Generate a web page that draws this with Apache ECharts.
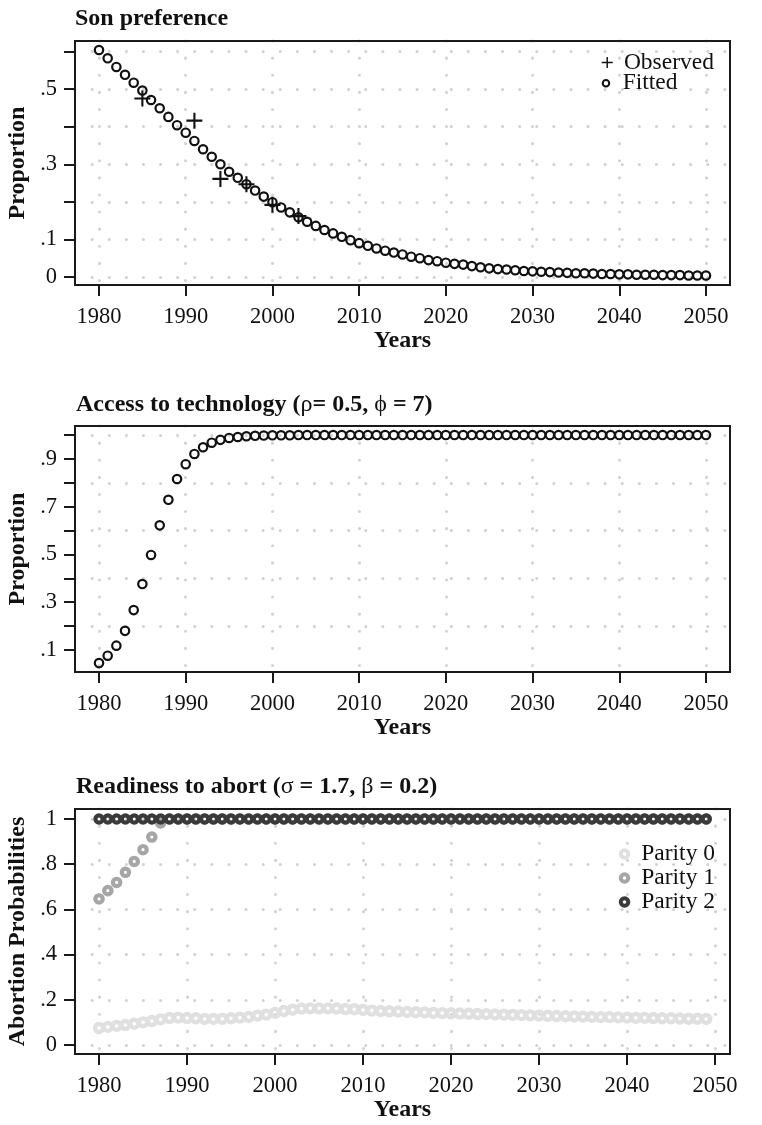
<!DOCTYPE html>
<html>
<head>
<meta charset="utf-8">
<script src="https://cdn.jsdelivr.net/npm/echarts@6/dist/echarts.min.js"></script>
<style>
html,body{margin:0;padding:0;background:#fff;}
#chart{width:762px;height:1125px;}
</style>
</head>
<body>
<div id="chart"></div>
<script>
// ---------------- DATA ----------------
const startYear = 1980;
// Panel 1: Son preference
const observedYears  = [1985, 1991, 1994, 1997, 2000, 2003];
const observedValues = [0.475, 0.416, 0.261, 0.247, 0.192, 0.162];
const fittedValues = [
  0.604, 0.582, 0.559, 0.538, 0.517, 0.496, 0.471, 0.449, 0.426, 0.404,
  0.384, 0.362, 0.340, 0.320, 0.300, 0.280, 0.264, 0.247, 0.230, 0.214,
  0.199, 0.185, 0.172, 0.159, 0.147, 0.136, 0.125, 0.116, 0.107, 0.098,
  0.090, 0.083, 0.076, 0.070, 0.065, 0.060, 0.054, 0.050, 0.045, 0.042,
  0.038, 0.035, 0.033, 0.029, 0.026, 0.023, 0.021, 0.020, 0.018, 0.016,
  0.015, 0.014, 0.013, 0.012, 0.011, 0.010, 0.010, 0.009, 0.008, 0.008,
  0.007, 0.007, 0.006, 0.006, 0.006, 0.005, 0.005, 0.005, 0.004, 0.004,
  0.004
];
// Panel 2: Access to technology
const accessValues = [
  0.045, 0.076, 0.118, 0.180, 0.267, 0.376, 0.498, 0.622, 0.729, 0.816,
  0.878, 0.921, 0.949, 0.968, 0.980, 0.988, 0.992, 0.995, 0.997, 0.998,
  0.999, 0.999, 0.999, 1, 1, 1, 1, 1, 1, 1,
  1, 1, 1, 1, 1, 1, 1, 1, 1, 1,
  1, 1, 1, 1, 1, 1, 1, 1, 1, 1,
  1, 1, 1, 1, 1, 1, 1, 1, 1, 1,
  1, 1, 1, 1, 1, 1, 1, 1, 1, 1,
  1
];
// Panel 3: Readiness to abort (1980-2049)
const parity0 = [
  0.075, 0.080, 0.084, 0.088, 0.094, 0.100, 0.106, 0.113, 0.119, 0.121,
  0.119, 0.118, 0.115, 0.115, 0.116, 0.118, 0.121, 0.124, 0.130, 0.134,
  0.142, 0.150, 0.156, 0.161, 0.162, 0.162, 0.162, 0.161, 0.159, 0.158,
  0.155, 0.152, 0.150, 0.149, 0.148, 0.146, 0.145, 0.144, 0.142, 0.141,
  0.140, 0.139, 0.138, 0.137, 0.136, 0.135, 0.134, 0.133, 0.132, 0.131,
  0.130, 0.129, 0.128, 0.127, 0.126, 0.125, 0.124, 0.123, 0.123, 0.122,
  0.121, 0.120, 0.120, 0.119, 0.118, 0.118, 0.117, 0.116, 0.116, 0.115
];
const parity1 = [
  0.646, 0.683, 0.719, 0.764, 0.812, 0.864, 0.920, 0.982, 1, 1,
  1, 1, 1, 1, 1, 1, 1, 1, 1, 1,
  1, 1, 1, 1, 1, 1, 1, 1, 1, 1,
  1, 1, 1, 1, 1, 1, 1, 1, 1, 1,
  1, 1, 1, 1, 1, 1, 1, 1, 1, 1,
  1, 1, 1, 1, 1, 1, 1, 1, 1, 1,
  1, 1, 1, 1, 1, 1, 1, 1, 1, 1
];
const parity2 = [
  1, 1, 1, 1, 1, 1, 1, 1, 1, 1,
  1, 1, 1, 1, 1, 1, 1, 1, 1, 1,
  1, 1, 1, 1, 1, 1, 1, 1, 1, 1,
  1, 1, 1, 1, 1, 1, 1, 1, 1, 1,
  1, 1, 1, 1, 1, 1, 1, 1, 1, 1,
  1, 1, 1, 1, 1, 1, 1, 1, 1, 1,
  1, 1, 1, 1, 1, 1, 1, 1, 1, 1
];
// Ticks / labels
const xTicks = [1980, 1990, 2000, 2010, 2020, 2030, 2040, 2050];
const yTicks1 = [0, 0.1, 0.2, 0.3, 0.4, 0.5, 0.6];
const yLabels1 = [0, 0.1, 0.3, 0.5];
const yGrid1 = [0, 0.1, 0.2, 0.3, 0.4, 0.5, 0.6];
const yTicks2 = [0.1, 0.2, 0.3, 0.4, 0.5, 0.6, 0.7, 0.8, 0.9, 1.0];
const yLabels2 = [0.1, 0.3, 0.5, 0.7, 0.9];
const yGrid2 = [0.2, 0.4, 0.6, 0.8, 1.0];
const yTicks3 = [0, 0.2, 0.4, 0.6, 0.8, 1];
const yLabels3 = [0, 0.2, 0.4, 0.6, 0.8, 1];
const yGrid3 = [0, 0.2, 0.4, 0.6, 0.8, 1];

// ---------------- STYLE ----------------
const FONT = '"Liberation Serif", "Times New Roman", Times, serif';
const INK = '#111';
const FRAME = '#1a1a1a';
const dotLine = { color: '#d2d2d2', width: 3, type: [0.1, 17], cap: 'round' };
const plusPath = 'path://M6.95,0H9.05V6.95H16V9.05H9.05V16H6.95V9.05H0V6.95H6.95Z';

function fmt(v) {
  if (v === 0) return '0';
  if (v === 1) return '1';
  return String(v).replace(/^0/, '');
}
function pairs(vals) { return vals.map((v, i) => [startYear + i, v]); }

const panels = [
  { top: 41, height: 244, xmin: 1977.23, xmax: 2052.77, ymin: -0.0213, ymax: 0.628,
    yTicks: yTicks1, yLabels: yLabels1, yGrid: yGrid1, yName: 'Proportion' },
  { top: 426, height: 246, xmin: 1977.23, xmax: 2052.77, ymin: 0.0077, ymax: 1.038,
    yTicks: yTicks2, yLabels: yLabels2, yGrid: yGrid2, yName: 'Proportion' },
  { top: 809, height: 245, xmin: 1977.27, xmax: 2051.7, ymin: -0.040, ymax: 1.044,
    yTicks: yTicks3, yLabels: yLabels3, yGrid: yGrid3, yName: 'Abortion Probabilities' }
];

const grid = [], xAxis = [], yAxis = [];
panels.forEach((p, i) => {
  grid.push({ left: 75, right: 32, top: p.top, height: p.height, show: true, z: 10,
    borderColor: FRAME, borderWidth: 2, backgroundColor: 'rgba(0,0,0,0)', containLabel: false, outerBoundsMode: 'none' });
  xAxis.push({
    gridIndex: i, type: 'value', min: p.xmin, max: p.xmax,
    axisLine: { show: true, onZero: false, lineStyle: { color: FRAME, width: 2 } },
    axisTick: { show: true, length: 11, customValues: xTicks, lineStyle: { color: FRAME, width: 2 } },
    axisLabel: { customValues: xTicks, margin: 21, fontSize: 22.5, fontFamily: FONT, color: INK,
      formatter: v => String(v) },
    splitLine: { show: true, lineStyle: dotLine },
    name: 'Years', nameLocation: 'middle', nameGap: 44, nameMoveOverlap: false,
    nameTextStyle: { fontSize: 24, fontWeight: 'bold', fontFamily: FONT, color: INK }
  });
  yAxis.push({
    gridIndex: i, type: 'value', min: p.ymin, max: p.ymax,
    axisLine: { show: true, onZero: false, lineStyle: { color: FRAME, width: 2 } },
    axisTick: { show: true, length: 11, customValues: p.yTicks, lineStyle: { color: FRAME, width: 2 } },
    axisLabel: { customValues: p.yLabels, margin: 18, fontSize: 22.5, fontFamily: FONT, color: INK, formatter: fmt },
    splitLine: { show: false },
    name: p.yName, nameLocation: 'middle', nameGap: 45, nameRotate: 90, nameMoveOverlap: false,
    nameTextStyle: { fontSize: 24, fontWeight: 'bold', fontFamily: FONT, color: INK }
  });
  yAxis.push({
    gridIndex: i, type: 'value', min: p.ymin, max: p.ymax, position: 'left',
    axisLine: { show: false }, axisTick: { show: false, customValues: p.yGrid },
    axisLabel: { show: false }, splitLine: { show: true, lineStyle: dotLine }
  });
});

const hollow = (color, bw) => ({ color: 'rgba(255,255,255,0)', borderColor: color, borderWidth: bw, opacity: 1 });

const series = [
  { type: 'scatter', name: 'Fitted', xAxisIndex: 0, yAxisIndex: 0, data: pairs(fittedValues),
    symbol: 'circle', symbolSize: 8.4, itemStyle: hollow(INK, 2.2), emphasis: { disabled: true }, z: 3 },
  { type: 'scatter', name: 'Observed', xAxisIndex: 0, yAxisIndex: 0,
    data: observedYears.map((y, i) => [y, observedValues[i]]),
    symbol: plusPath, symbolSize: 16, itemStyle: { color: INK, borderWidth: 0, opacity: 1 }, emphasis: { disabled: true }, z: 4 },
  { type: 'scatter', name: 'Access', xAxisIndex: 1, yAxisIndex: 2, data: pairs(accessValues),
    symbol: 'circle', symbolSize: 8.4, itemStyle: hollow(INK, 2.2), emphasis: { disabled: true }, z: 3 },
  { type: 'scatter', name: 'Parity 0', xAxisIndex: 2, yAxisIndex: 4, data: pairs(parity0),
    symbol: 'circle', symbolSize: 8, itemStyle: hollow('#e0e0e0', 4.4), emphasis: { disabled: true }, z: 3 },
  { type: 'scatter', name: 'Parity 1', xAxisIndex: 2, yAxisIndex: 4, data: pairs(parity1),
    symbol: 'circle', symbolSize: 7.4, itemStyle: hollow('#a6a6a6', 4.2), emphasis: { disabled: true }, z: 4 },
  { type: 'scatter', name: 'Parity 2', xAxisIndex: 2, yAxisIndex: 4, data: pairs(parity2),
    symbol: 'circle', symbolSize: 7.2, itemStyle: hollow('#3a3a3a', 4.2), emphasis: { disabled: true }, z: 5 }
];

const legText = { fontSize: 23.5, fontFamily: FONT, color: INK, lineHeight: 21 };
const legend = [
  { orient: 'vertical', left: 601.7, top: 50.5, padding: 0, itemGap: 0, itemWidth: 23.4, itemHeight: 11,
    selectedMode: false, textStyle: legText,
    data: [{ name: 'Observed', icon: plusPath, itemStyle: { color: INK, borderWidth: 0 } }] },
  { orient: 'vertical', left: 601.7, top: 71.2, padding: 0, itemGap: 0, itemWidth: 23.4, itemHeight: 6.5,
    selectedMode: false, textStyle: legText,
    data: [{ name: 'Fitted', icon: 'circle', itemStyle: { color: 'rgba(255,255,255,0)', borderColor: INK, borderWidth: 2 } }] },
  { orient: 'vertical', left: 618.8, top: 842, padding: 0, itemGap: 0, itemWidth: 23.4, itemHeight: 7.5,
    selectedMode: false, textStyle: legText,
    data: [
      { name: 'Parity 0', icon: 'circle', itemStyle: { color: 'rgba(255,255,255,0)', borderColor: '#e0e0e0', borderWidth: 4 } },
      { name: 'Parity 1', icon: 'circle', itemStyle: { color: 'rgba(255,255,255,0)', borderColor: '#a6a6a6', borderWidth: 4 } },
      { name: 'Parity 2', icon: 'circle', itemStyle: { color: 'rgba(255,255,255,0)', borderColor: '#3a3a3a', borderWidth: 4 } }
    ] }
];

const titleStyle = { fontSize: 24, fontWeight: 'bold', fontFamily: FONT, color: INK,
  rich: { g: { fontSize: 24, fontWeight: 'normal', fontFamily: FONT, color: INK } } };
const title = [
  { text: 'Son preference', left: 75, top: 7, padding: 0, textStyle: titleStyle },
  { text: 'Access to technology ({g|ρ}= 0.5, {g|ϕ} = 7)', left: 76, top: 392.5, padding: 0, textStyle: titleStyle },
  { text: 'Readiness to abort ({g|σ} = 1.7, {g|β} = 0.2)', left: 76, top: 774.5, padding: 0, textStyle: titleStyle }
];

const chart = echarts.init(document.getElementById('chart'), null, { renderer: 'canvas' });
chart.setOption({
  animation: false,
  backgroundColor: '#fff',
  title, legend, grid, xAxis, yAxis, series,
  tooltip: { show: false }
});
</script>
</body>
</html>
